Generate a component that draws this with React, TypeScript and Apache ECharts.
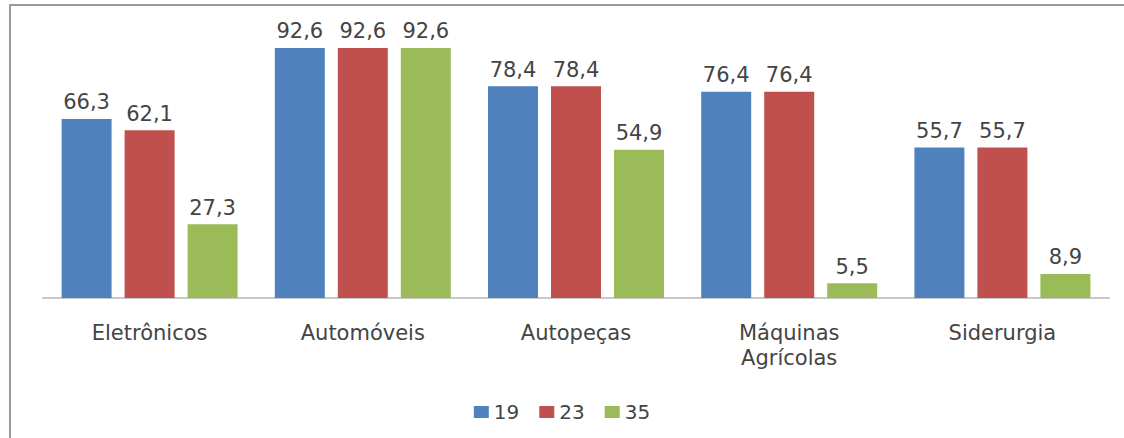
import React, { useEffect, useRef } from "react";
import * as echarts from "echarts";

const categories = ["Eletrônicos", "Automóveis", "Autopeças", "Máquinas\nAgrícolas", "Siderurgia"];
const seriesNames = ["19", "23", "35"];
const s19 = [66.3, 92.6, 78.4, 76.4, 55.7];
const s23 = [62.1, 92.6, 78.4, 76.4, 55.7];
const s35 = [27.3, 92.6, 54.9, 5.5, 8.9];
const colors = ["#4F81BD", "#C0504D", "#9BBB59"];

export default function App() {
  const ref = useRef<HTMLDivElement>(null);
  useEffect(() => {
    document.body.style.margin = "0";
    const chart = echarts.init(ref.current!, null, { renderer: "svg" });
    const font = "DejaVu Sans";
    const data = [s19, s23, s35];
    chart.setOption({
      animation: false,
      backgroundColor: "#ffffff",
      textStyle: { fontFamily: font },
      graphic: [
        {
          type: "rect",
          shape: { x: 10, y: 5, width: 1200, height: 500 },
          style: { fill: "none", stroke: "#9a9a9a", lineWidth: 2 },
          silent: true,
        },
      ],
      legend: {
        data: seriesNames,
        top: 397,
        left: "center",
        itemWidth: 15,
        itemHeight: 12,
        itemGap: 20,
        icon: "rect",
        textStyle: { fontFamily: font, fontSize: 20, color: "#444" },
      },
      grid: { left: 43, right: 15, top: 28, bottom: 140, containLabel: false },
      xAxis: {
        type: "category",
        data: categories,
        axisLine: { lineStyle: { color: "#c8c8c8", width: 2 } },
        axisTick: { show: false },
        axisLabel: {
          fontFamily: font,
          fontSize: 21,
          color: "#444",
          margin: 22,
          lineHeight: 25,
          interval: 0,
        },
      },
      yAxis: {
        type: "value",
        min: 0,
        max: 100,
        show: false,
        splitLine: { show: false },
      },
      series: seriesNames.map((name, i) => ({
        name,
        type: "bar",
        data: data[i],
        barWidth: 50,
        barGap: "26%",
        itemStyle: { color: colors[i] },
        label: {
          show: true,
          position: "top",
          distance: 6,
          fontFamily: font,
          fontSize: 21,
          color: "#444",
          formatter: (p: any) => String(p.value.toFixed(1)).replace(".", ","),
        },
      })),
    });
    return () => chart.dispose();
  }, []);
  return <div ref={ref} style={{ width: 1124, height: 438 }} />;
}
